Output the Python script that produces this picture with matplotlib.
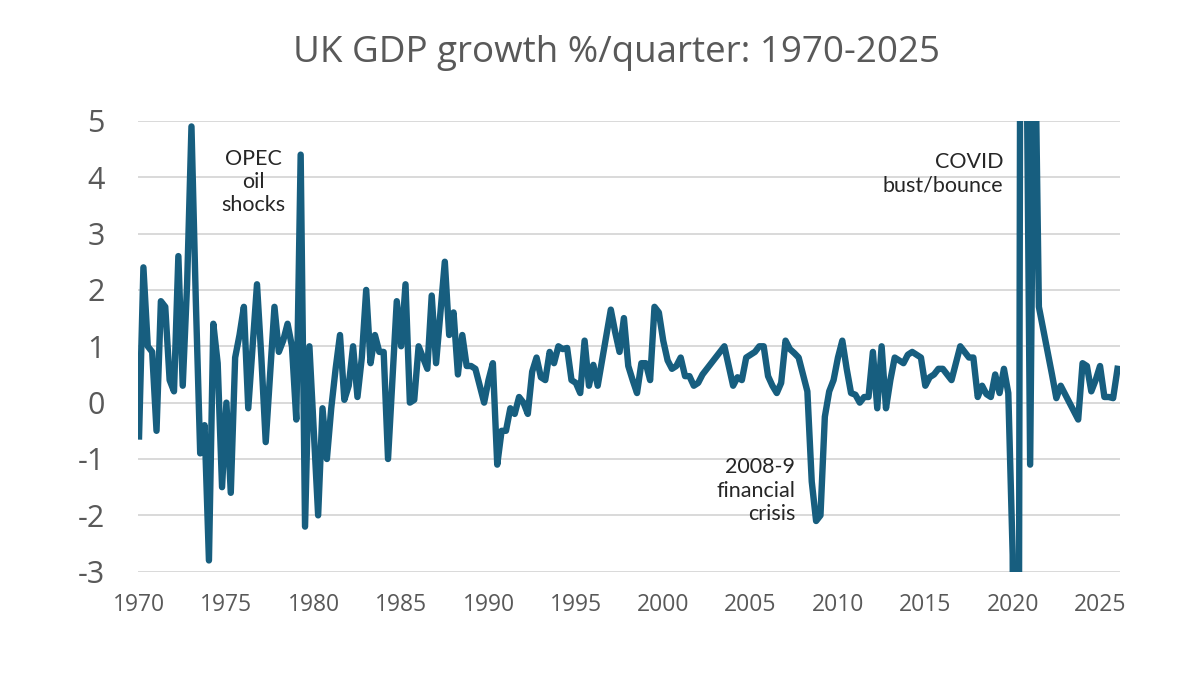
import numpy as np
import matplotlib
matplotlib.use('Agg')
from matplotlib import pyplot as plt

plt.rcParams['font.family'] = ['Lato', 'DejaVu Sans']

# quarter-on-quarter GDP growth, %, from 1970 Q1
q_1970s = [-0.6, 2.4, 1.0, 0.9, -0.5, 1.8, 1.7, 0.4, 0.2, 2.6,
           0.3, 2.1, 4.9, 1.8, -0.9, -0.4, -2.8, 1.4, 0.7, -1.5,
           0.0, -1.6, 0.8, 1.2, 1.7, -0.1, 1.0, 2.1, 0.8, -0.7,
           0.5, 1.7, 0.9, 1.1, 1.4, 1.0, -0.3, 4.4, -2.2, 1.0]
q_1980s = [-0.5, -2.0, -0.1, -1.0, -0.1, 0.6, 1.2, 0.05, 0.3, 1.0,
           0.1, 0.8, 2.0, 0.7, 1.2, 0.9, 0.9, -1.0, 0.4, 1.8,
           1.0, 2.1, 0.0, 0.05, 1.0, 0.8, 0.6, 1.9, 0.7, 1.6,
           2.5, 1.2, 1.6, 0.5, 1.2, 0.65, 0.65, 0.6, 0.3, 0.0]
q_1990s = [0.4, 0.7, -1.1, -0.5, -0.5, -0.1, -0.2, 0.1, 0.0, -0.2,
           0.55, 0.8, 0.45, 0.4, 0.9, 0.7, 1.0, 0.95, 0.97, 0.4,
           0.35, 0.17, 1.1, 0.3, 0.67, 0.3, 0.75, 1.2, 1.65, 1.25,
           0.9, 1.5, 0.65, 0.4, 0.17, 0.7, 0.7, 0.4, 1.7, 1.6]
q_2000s = [1.1, 0.75, 0.6, 0.65, 0.8, 0.47, 0.47, 0.3, 0.35, 0.5,
           0.6, 0.7, 0.8, 0.9, 1.0, 0.65, 0.3, 0.45, 0.4, 0.8,
           0.85, 0.9, 1.0, 1.0, 0.47, 0.3, 0.17, 0.35, 1.1, 0.95,
           0.88, 0.8, 0.5, 0.2, -1.4, -2.1, -2.0, -0.25, 0.2, 0.4]
q_2010s = [0.8, 1.1, 0.6, 0.17, 0.14, 0.0, 0.1, 0.1, 0.9, -0.1,
           1.0, -0.1, 0.4, 0.8, 0.75, 0.7, 0.85, 0.9, 0.85, 0.8,
           0.3, 0.45, 0.5, 0.6, 0.6, 0.5, 0.4, 0.7, 1.0, 0.9,
           0.8, 0.8, 0.1, 0.3, 0.15, 0.1, 0.5, 0.17, 0.6, 0.17]
# the COVID swings run off the chart; values beyond -3..5 are estimates
q_2020s = [-2.7, -20.3, 16.9, 8.0, -1.1, 7.3, 1.7, 1.3, 0.9, 0.5,
           0.08, 0.3, 0.15, 0.0, -0.15, -0.3, 0.7, 0.65, 0.2, 0.4,
           0.65, 0.1, 0.1, 0.08, 0.6]

growth = np.array(q_1970s + q_1980s + q_1990s + q_2000s + q_2010s + q_2020s)
t = 1970 + np.arange(len(growth)) / 4

year_ticks = list(range(1970, 2026, 5))
y_ticks = list(range(-3, 6))

notes = [
    ('OPEC\noil\nshocks', 1976.55, 4.5, 'center'),
    ('2008-9\nfinancial\ncrisis', 2007.55, -0.97, 'right'),
    ('COVID\nbust/bounce', 2019.45, 4.45, 'right'),
]

line_col = '#175e7f'
txt_grey = '#595959'

fig = plt.figure(figsize=(12, 6.75), dpi=100)
ax = fig.add_axes([0.115, 0.153, 0.818, 0.668])

ax.plot(t, growth, color=line_col, lw=4.6, solid_joinstyle='round', zorder=3)

ax.set_xlim(1969.94, 2026.12)
ax.set_ylim(-3, 5)
ax.set_xticks(year_ticks)
ax.set_xticklabels([str(y) for y in year_ticks], family='Open Sans')
ax.set_yticks(y_ticks)
ax.set_yticklabels([str(v) for v in y_ticks], family='Open Sans')
ax.tick_params(axis='y', length=0, pad=24, labelsize=22, labelcolor=txt_grey)
ax.tick_params(axis='x', length=0, pad=15, labelsize=16.5, labelcolor=txt_grey)
ax.grid(axis='y', color='#d9d9d9', lw=1.4, zorder=0)
for s in ax.spines.values():
    s.set_visible(False)

for label, x, y, ha in notes:
    ax.text(x, y, label, ha=ha, va='top', fontsize=15.5, color='#262626',
            linespacing=1.2, zorder=4)

fig.text(0.514, 0.922, 'UK GDP growth %/quarter: 1970-2025', ha='center',
         va='center', fontsize=26.5, color=txt_grey, family='Open Sans')

fig.savefig('out.png', dpi=100)
